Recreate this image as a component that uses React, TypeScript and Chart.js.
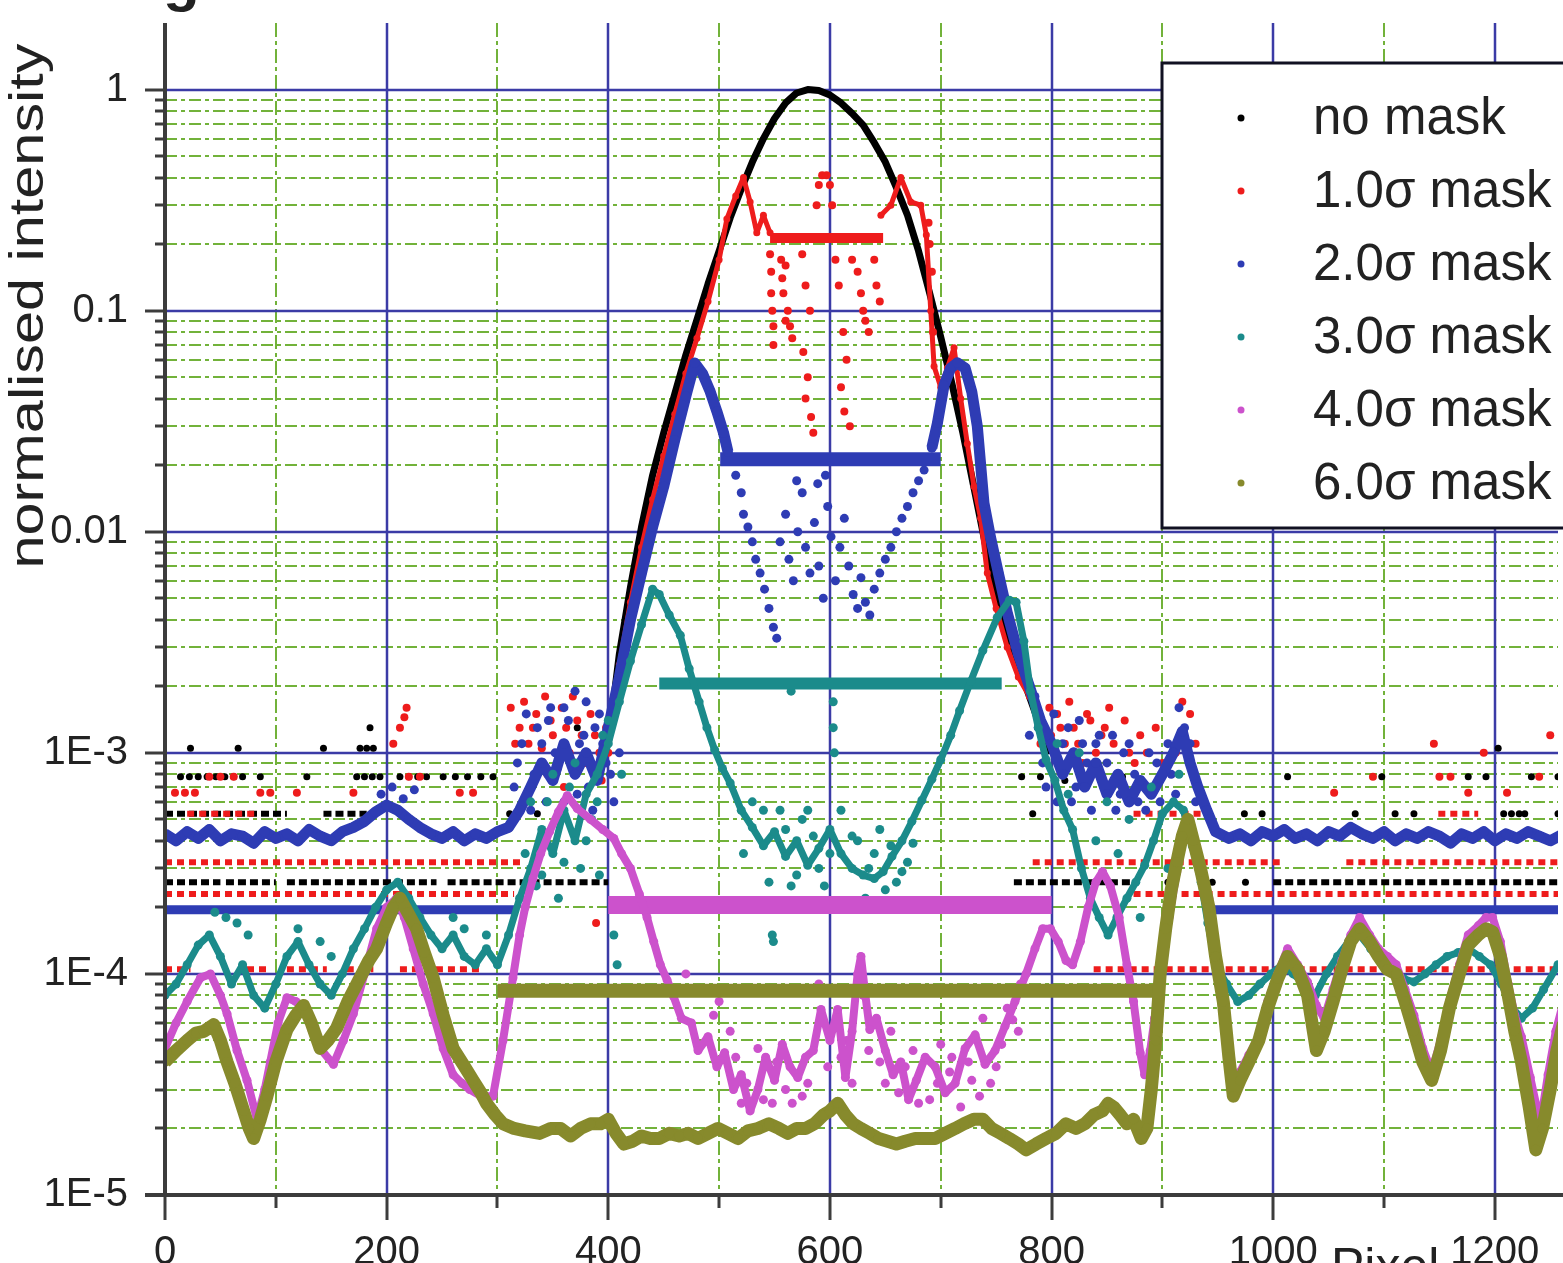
import React, { useEffect, useRef } from 'react';
import { Chart, registerables } from 'chart.js';

Chart.register(...registerables);

type P = [number, number];
type Seg = [number, number, number];

// ---------- series meta ----------
const SERIES_NAMES = ['no mask', '1.0σ mask', '2.0σ mask', '3.0σ mask', '4.0σ mask', '6.0σ mask'];
const SERIES_COLORS = ['#000000', '#ee1c1c', '#2e3cb4', '#1b8b8b', '#cc52cc', '#878a2c'];

// ---------- axes ----------
const X_MIN = 0;
const X_MAX = 1257;
const Y_MIN = 1e-5;
const Y_MAX = 2;
const X_TICKS = [0, 200, 400, 600, 800, 1000, 1200];
const X_MINOR_TICKS = [100, 300, 500, 700, 900, 1100];
const Y_TICKS = [1e-5, 1e-4, 1e-3, 1e-2, 1e-1, 1];
const Y_TICK_LABELS = ['1E-5', '1E-4', '1E-3', '0.01', '0.1', '1'];
const Y_AXIS_TITLE = 'normalised intensity';
const X_AXIS_TITLE = 'Pixel';

// ---------- no mask ----------
const NO_MASK_PEAK: P[] = [[400,0.0011],[410,0.0028],[420,0.0056],[430,0.0105],[440,0.018],[450,0.028],[460,0.042],[470,0.063],[480,0.091],[490,0.132],[500,0.186],[510,0.263],[520,0.355],[530,0.47],[540,0.6],[550,0.74],[560,0.87],[570,0.965],[580,1.0],[590,0.99],[600,0.945],[610,0.87],[620,0.78],[630,0.69],[640,0.575],[650,0.47],[660,0.36],[670,0.27],[680,0.186],[690,0.12],[700,0.076],[710,0.047],[720,0.028],[730,0.0158],[740,0.0089],[750,0.0054],[760,0.0035],[770,0.0025],[780,0.0018],[790,0.0013],[800,0.001]];
const NO_MASK_ROWS: Seg[] = [[0,50,2.6e-4],[55,100,2.6e-4],[110,245,2.6e-4],[255,400,2.6e-4],[766,875,2.6e-4],[1000,1262,2.6e-4],[0,110,5.3e-4],[143,182,5.3e-4]];
const NO_MASK_X_AT_78 = [14,22,30,38,46,54,62,70,86,128,173,180,187,194,212,220,228,236,251,262,273,285,296,773,864,1013,1098,1176,1192,1233,1257];
const NO_MASK_X_AT_53 = [311,318,336,783,974,990,1074,1110,1127,1208,1215,1222,1227,1257];
const NO_MASK_X_AT_105 = [23,66,143,176,182,188,1203];
const NO_MASK_CLOUD: P[] = [[185,1.3e-3],[372,1.3e-3],[385,9e-4],[395,1.2e-3],[790,7.8e-4],[805,9e-4],[812,7.5e-4],[820,1.0e-3],[905,2.6e-4],[945,2.6e-4],[975,2.6e-4]];

// ---------- 1.0 sigma ----------
const ONE_SIGMA_LEFT: P[] = [[400,0.0012],[410,0.0025],[420,0.0048],[430,0.0085],[440,0.014],[450,0.022],[460,0.034],[470,0.052],[480,0.075],[490,0.11],[500,0.17],[507,0.26],[515,0.33],[522,0.4],[528,0.31],[534,0.225],[540,0.27],[546,0.225]];
const ONE_SIGMA_RIGHT: P[] = [[646,0.27],[655,0.3],[664,0.4],[673,0.31],[682,0.3],[687,0.22],[691,0.1],[694,0.056],[700,0.045],[706,0.055],[712,0.068],[718,0.04],[724,0.025],[730,0.016],[736,0.0115],[742,0.0065],[750,0.0045],[760,0.003],[770,0.0022],[780,0.0018],[790,0.0014],[800,0.0012]];
const ONE_SIGMA_FLAT: Seg[] = [[546,648,0.213]];
const ONE_SIGMA_INNER: P[] = [[588,0.3],[590,0.37],[593,0.41],[597,0.41],[600,0.37],[602,0.3],[546,0.18],[547,0.15],[547,0.12],[548,0.1],[549,0.085],[549,0.07],[556,0.17],[557,0.14],[560,0.16],[558,0.12],[562,0.1],[560,0.09],[564,0.085],[566,0.075],[575,0.18],[578,0.13],[582,0.1],[576,0.065],[580,0.05],[578,0.04],[583,0.033],[585,0.028],[605,0.17],[608,0.13],[612,0.08],[615,0.06],[610,0.045],[613,0.035],[618,0.03],[620,0.17],[625,0.15],[628,0.12],[630,0.1],[632,0.09],[635,0.08],[640,0.17],[642,0.13],[645,0.11],[689,0.25],[690,0.2],[692,0.15],[693,0.08]];
const ONE_SIGMA_CLOUD: P[] = [[206,1.1e-3],[212,1.3e-3],[216,1.45e-3],[218,1.6e-3],[312,1.6e-3],[320,1.3e-3],[328,1.1e-3],[335,1.5e-3],[343,1.8e-3],[350,1.2e-3],[358,1.6e-3],[365,1.0e-3],[372,1.4e-3],[380,9e-4],[388,1.2e-3],[394,7.5e-4],[400,1.0e-3],[345,8e-4],[360,7e-4],[389,1.7e-4],[316,1.1e-3],[324,1.7e-3],[332,1.3e-3],[340,1.05e-3],[348,1.4e-3],[355,1.0e-3],[362,1.3e-3],[368,1.8e-3],[376,1.2e-3],[384,1.5e-3],[392,1.0e-3],[398,1.3e-3],[805,1.5e-3],[812,1.1e-3],[820,1.3e-3],[828,9e-4],[835,1.4e-3],[845,1.2e-3],[852,1.6e-3],[860,8e-4],[870,1.0e-3],[880,1.2e-3],[900,9e-4],[925,1.5e-3],[930,1.1e-3],[790,1.1e-3],[798,1.6e-3],[808,1.3e-3],[816,1.7e-3],[824,1.1e-3],[832,1.5e-3],[840,1.0e-3],[848,1.3e-3],[856,1.1e-3],[866,1.4e-3],[875,9e-4],[886,1.0e-3],[894,1.3e-3],[912,1.0e-3],[918,1.7e-3],[1145,1.1e-3],[1250,1.2e-3],[1190,1.0e-3]];
const ONE_SIGMA_ROWS: Seg[] = [[0,23,1.05e-4],[74,95,1.05e-4],[110,146,1.05e-4],[164,188,1.05e-4],[212,284,1.05e-4],[838,1262,1.05e-4],[0,315,2.3e-4],[874,1262,2.3e-4],[0,323,3.2e-4],[783,1007,3.2e-4],[1066,1262,3.2e-4],[20,85,5.3e-4],[874,942,5.3e-4],[1149,1185,5.3e-4]];
const ONE_SIGMA_X_AT_66 = [9,18,27,86,95,119,170,266,278,1055,1176,1211];
const ONE_SIGMA_X_AT_78 = [40,50,62,220,230,1090,1150,1160,1240];

// ---------- 2.0 sigma ----------
const TWO_SIGMA_LEFT: P[] = [[0,4.3e-4],[10,4.0e-4],[20,4.4e-4],[30,4.1e-4],[40,4.5e-4],[50,4.0e-4],[60,4.3e-4],[70,4.2e-4],[80,3.9e-4],[90,4.4e-4],[100,4.1e-4],[110,4.3e-4],[120,4.0e-4],[130,4.5e-4],[140,4.2e-4],[150,4.0e-4],[160,4.4e-4],[170,4.6e-4],[180,4.9e-4],[190,5.4e-4],[200,5.8e-4],[210,5.5e-4],[220,5.0e-4],[230,4.6e-4],[240,4.3e-4],[250,4.1e-4],[260,4.4e-4],[270,4.0e-4],[280,4.3e-4],[290,4.1e-4],[300,4.4e-4],[310,4.6e-4],[320,5.5e-4],[330,7e-4],[340,9e-4],[350,7.5e-4],[360,1.1e-3],[370,8e-4],[380,1.0e-3],[390,7.5e-4],[400,1.3e-3],[410,2.2e-3],[420,4.0e-3],[430,6.5e-3],[440,0.0105],[450,0.016],[460,0.026],[470,0.041],[478,0.058],[485,0.052],[492,0.043],[498,0.035],[504,0.028],[508,0.023]];
const TWO_SIGMA_RIGHT: P[] = [[692,0.024],[697,0.031],[703,0.046],[709,0.055],[715,0.058],[722,0.055],[728,0.043],[733,0.03],[739,0.0135],[745,0.0094],[752,0.0065],[760,0.0043],[770,0.0028],[780,0.002],[790,1.4e-3],[800,1.1e-3],[810,8e-4],[820,1.0e-3],[830,7e-4],[840,9e-4],[850,6.5e-4],[860,8e-4],[870,6e-4],[880,7.5e-4],[890,6.5e-4],[900,8e-4],[910,1.0e-3],[918,1.25e-3],[925,9e-4],[932,7e-4],[940,5.5e-4],[948,4.4e-4],[960,4.1e-4],[970,4.3e-4],[980,4.0e-4],[990,4.4e-4],[1000,4.2e-4],[1010,4.5e-4],[1020,4.1e-4],[1030,4.3e-4],[1040,4.0e-4],[1050,4.4e-4],[1060,4.2e-4],[1070,4.6e-4],[1080,4.3e-4],[1090,4.1e-4],[1100,4.4e-4],[1110,4.0e-4],[1120,4.3e-4],[1130,4.1e-4],[1140,4.4e-4],[1150,4.2e-4],[1160,3.9e-4],[1170,4.3e-4],[1180,4.1e-4],[1190,4.4e-4],[1200,4.0e-4],[1210,4.3e-4],[1220,4.1e-4],[1230,4.4e-4],[1240,4.2e-4],[1250,4.0e-4],[1262,4.3e-4]];
const TWO_SIGMA_FLAT: Seg[] = [[501,700,0.0213]];
const TWO_SIGMA_ROWS: Seg[] = [[0,318,1.95e-4],[946,1262,1.95e-4]];
const TWO_SIGMA_INNER: P[] = [[515,0.018],[520,0.015],[522,0.012],[526,0.0105],[530,0.009],[533,0.0075],[537,0.0065],[541,0.0055],[545,0.0045],[549,0.0037],[552,0.0033],[555,0.009],[560,0.012],[563,0.0075],[567,0.006],[571,0.01],[575,0.015],[578,0.0085],[582,0.0065],[586,0.011],[590,0.007],[594,0.005],[598,0.013],[601,0.0095],[605,0.006],[609,0.0085],[613,0.0115],[617,0.007],[621,0.0052],[625,0.0045],[628,0.0062],[632,0.0048],[636,0.0042],[589,0.0165],[596,0.018],[570,0.017],[640,0.0055],[645,0.0065],[650,0.0075],[655,0.0085],[660,0.01],[665,0.0115],[670,0.013],[675,0.015],[680,0.017],[685,0.019]];
const TWO_SIGMA_CLOUD: P[] = [[195,6.5e-4],[205,7e-4],[215,6.2e-4],[225,6.8e-4],[315,7e-4],[322,1.1e-3],[330,5.5e-4],[336,1.3e-3],[344,6e-4],[352,1.0e-3],[356,5e-4],[364,1.4e-3],[372,6.5e-4],[378,1.2e-3],[386,5.5e-4],[392,1.5e-3],[398,9e-4],[405,6e-4],[410,1.0e-3],[348,1.6e-3],[370,1.9e-3],[318,9e-4],[326,1.5e-3],[333,8e-4],[340,1.1e-3],[346,1.4e-3],[354,8.5e-4],[360,1.6e-3],[366,9e-4],[374,1.1e-3],[382,7e-4],[388,1.3e-3],[395,1.1e-3],[402,8e-4],[360,6e-4],[380,1.7e-3],[780,1.2e-3],[785,1.8e-3],[792,9e-4],[798,1.2e-3],[805,6e-4],[815,1.3e-3],[822,7e-4],[828,1.1e-3],[836,5.5e-4],[843,1.2e-3],[850,9e-4],[858,5.5e-4],[865,1.0e-3],[875,8e-4],[885,5.5e-4],[895,9e-4],[905,1.1e-3],[912,6.5e-4],[920,1.3e-3],[915,1.6e-3],[788,1.3e-3],[795,7e-4],[802,1.5e-3],[810,1.1e-3],[818,6e-4],[825,1.4e-3],[832,9e-4],[840,1.1e-3],[847,7e-4],[855,1.2e-3],[862,6.5e-4],[870,1.1e-3],[878,6e-4],[888,1.0e-3],[898,6e-4],[908,8e-4],[925,1.1e-3],[930,6e-4]];

// ---------- 3.0 sigma ----------
const THREE_SIGMA_MAIN: P[] = [[0,8e-5],[10,9e-5],[20,1.1e-4],[30,1.35e-4],[40,1.5e-4],[50,1.2e-4],[60,9e-5],[70,1.1e-4],[80,8e-5],[90,7e-5],[100,9e-5],[110,1.2e-4],[120,1.4e-4],[130,1.1e-4],[140,9e-5],[150,8e-5],[160,1.0e-4],[170,1.3e-4],[180,1.6e-4],[190,2.0e-4],[200,2.4e-4],[210,2.6e-4],[220,2.2e-4],[230,1.8e-4],[240,1.5e-4],[250,1.3e-4],[260,1.5e-4],[270,1.2e-4],[280,1.1e-4],[290,1.3e-4],[300,1.1e-4],[310,1.5e-4],[320,2.2e-4],[330,3.0e-4],[340,4.5e-4],[350,3.5e-4],[360,5.5e-4],[370,4.0e-4],[380,6.5e-4],[390,8e-4],[400,1.1e-3],[410,1.7e-3],[420,2.6e-3],[430,3.8e-3],[440,5.5e-3],[446,5.2e-3],[455,4.2e-3],[465,3.4e-3],[473,2.4e-3],[482,1.7e-3],[489,1.3e-3],[496,1.03e-3],[503,8.5e-4],[510,7.3e-4],[520,5.5e-4],[530,4.6e-4],[540,3.8e-4],[550,4.4e-4],[560,3.4e-4],[570,4.0e-4],[580,3.1e-4],[590,3.7e-4],[600,4.5e-4],[610,3.5e-4],[620,3.0e-4],[630,2.8e-4],[640,2.7e-4],[648,2.9e-4],[656,3.4e-4],[665,4.0e-4],[674,4.9e-4],[683,6.1e-4],[692,7.6e-4],[700,9.3e-4],[709,1.2e-3],[717,1.55e-3],[727,2.1e-3],[738,2.9e-3],[751,4.1e-3],[762,4.9e-3],[768,4.8e-3],[775,3.2e-3],[781,1.9e-3],[788,1.3e-3],[795,9.3e-4],[803,7.5e-4],[811,5.5e-4],[819,4.5e-4],[827,3.0e-4],[835,2.2e-4],[843,1.8e-4],[851,1.5e-4],[859,1.8e-4],[868,2.2e-4],[876,2.6e-4],[884,3.1e-4],[892,4.0e-4],[900,5.3e-4],[910,6.0e-4],[919,5.5e-4],[927,3.8e-4],[935,2.6e-4],[941,1.7e-4],[948,1.1e-4],[958,9e-5],[968,7.5e-5],[978,8e-5],[988,9e-5],[998,1.0e-4],[1008,1.1e-4],[1018,1.0e-4],[1028,9e-5],[1038,8e-5],[1048,1.0e-4],[1058,1.2e-4],[1068,1.4e-4],[1078,1.5e-4],[1088,1.3e-4],[1098,1.15e-4],[1108,1.0e-4],[1118,9.5e-5],[1127,9.2e-5],[1137,1.0e-4],[1147,1.1e-4],[1157,1.2e-4],[1167,1.25e-4],[1176,1.3e-4],[1186,1.2e-4],[1196,1.1e-4],[1206,9e-5],[1216,7e-5],[1224,6.3e-5],[1234,7e-5],[1244,8.5e-5],[1257,1.1e-4]];
const THREE_SIGMA_FLAT: Seg[] = [[446,755,2.06e-3]];
const THREE_SIGMA_SCATTER: P[] = [[565,1.9e-3],[603,1.7e-3],[603,1.3e-3],[604,1.0e-3],[548,1.5e-4],[549,1.4e-4],[530,6e-4],[545,2.6e-4],[555,5.5e-4],[565,2.5e-4],[575,5e-4],[585,4.2e-4],[595,2.5e-4],[610,5.5e-4],[615,2.0e-4],[625,4.0e-4],[632,2.2e-4],[640,3.5e-4],[650,2.4e-4],[660,2.6e-4],[670,3.2e-4],[540,5.5e-4],[522,3.5e-4],[560,4.5e-4],[570,2.8e-4],[580,5.5e-4],[590,3.0e-4],[600,3.5e-4],[620,4.2e-4],[635,3e-4],[645,4.5e-4],[655,3.8e-4],[665,2.9e-4],[675,3.9e-4],[325,3.5e-4],[335,2.5e-4],[345,6e-4],[355,2.2e-4],[365,7e-4],[375,3e-4],[385,5e-4],[395,1.2e-3],[405,1.5e-4],[408,1.1e-4],[412,8e-4],[330,6e-4],[340,2.8e-4],[350,8e-4],[360,3.2e-4],[370,9e-4],[380,4e-4],[390,6e-4],[400,1.4e-3],[392,2.8e-4],[805,1.1e-3],[815,6.5e-4],[825,1e-3],[840,4e-4],[850,6e-4],[860,3.5e-4],[870,5e-4],[880,1.8e-4],[890,7e-4],[905,3e-4],[915,8e-4],[45,1.9e-4],[55,1.8e-4],[65,1.7e-4],[75,1.5e-4],[120,1.6e-4],[140,1.4e-4],[150,1.2e-4],[260,1.8e-4],[270,1.6e-4],[290,1.5e-4]];

// ---------- 4.0 sigma ----------
const FOUR_SIGMA_MAIN: P[] = [[0,4.6e-5],[10,6e-5],[20,7.5e-5],[32,9.6e-5],[41,1.0e-4],[50,8e-5],[56,6.6e-5],[65,4.5e-5],[74,3.3e-5],[83,2.2e-5],[90,3.0e-5],[95,4.0e-5],[102,6e-5],[110,7.8e-5],[118,7.5e-5],[126,7e-5],[133,5.5e-5],[140,4.6e-5],[152,3.9e-5],[161,5e-5],[170,6.6e-5],[180,1.0e-4],[191,1.6e-4],[200,2.0e-4],[209,2.2e-4],[216,1.8e-4],[224,1.3e-4],[233,9e-5],[242,6.6e-5],[251,4.6e-5],[260,3.5e-5],[268,3.2e-5],[275,3.0e-5],[285,2.8e-5],[296,2.8e-5],[305,5e-5],[314,9.6e-5],[320,1.5e-4],[325,2.0e-4],[332,2.7e-4],[339,3.5e-4],[347,4.4e-4],[355,5.4e-4],[363,6.4e-4],[372,5.6e-4],[384,5.0e-4],[395,4.5e-4],[405,4.1e-4],[412,3.5e-4],[420,3.0e-4],[428,2.3e-4],[435,1.8e-4],[441,1.4e-4],[447,1.1e-4],[453,9.4e-5],[459,7.9e-5],[466,6.3e-5],[475,6.0e-5],[481,4.5e-5],[490,5.2e-5],[498,3.8e-5],[505,4.4e-5],[513,3.0e-5],[520,3.5e-5],[528,2.4e-5],[535,3.0e-5],[542,4.2e-5],[550,3.3e-5],[557,4.8e-5],[564,3.8e-5],[571,3.4e-5],[578,4.2e-5],[585,4.5e-5],[592,6.9e-5],[600,5.0e-5],[607,6.9e-5],[614,3.4e-5],[620,5.5e-5],[625,1.0e-4],[628,1.2e-4],[632,8e-5],[636,5.6e-5],[642,6.3e-5],[650,4.5e-5],[657,3.5e-5],[664,4.0e-5],[671,2.7e-5],[678,3.3e-5],[686,4.2e-5],[695,3.8e-5],[704,2.9e-5],[713,3.2e-5],[722,4.6e-5],[731,5.3e-5],[740,3.9e-5],[749,4.5e-5],[758,5.8e-5],[767,7.5e-5],[777,1.0e-4],[785,1.3e-4],[792,1.6e-4],[799,1.6e-4],[806,1.4e-4],[813,1.15e-4],[819,1.1e-4],[826,1.4e-4],[833,2.0e-4],[840,2.6e-4],[846,2.9e-4],[853,2.5e-4],[861,1.8e-4],[868,1.1e-4],[874,7.5e-5],[880,4.4e-5],[884,3.5e-5],[889,4.5e-5],[893,6.3e-5],[900,1.1e-4],[906,1.8e-4],[913,2.9e-4],[918,4.2e-4],[923,5.0e-4],[928,4.2e-4],[935,3.0e-4],[942,2.2e-4],[948,1.3e-4],[955,7.5e-5],[960,4.5e-5],[964,3.1e-5],[970,3.6e-5],[978,4.3e-5],[987,5.2e-5],[995,7.5e-5],[1004,1.0e-4],[1013,1.3e-4],[1022,1.1e-4],[1031,9.2e-5],[1039,7.2e-5],[1046,6.3e-5],[1054,8.5e-5],[1062,1.15e-4],[1070,1.5e-4],[1078,1.8e-4],[1087,1.5e-4],[1095,1.3e-4],[1103,1.2e-4],[1111,1.1e-4],[1119,8.5e-5],[1127,6.5e-5],[1135,4.6e-5],[1143,3.6e-5],[1151,5e-5],[1159,7.5e-5],[1168,1.1e-4],[1176,1.5e-4],[1185,1.65e-4],[1192,1.8e-4],[1198,1.8e-4],[1205,1.4e-4],[1212,9e-5],[1218,6.5e-5],[1224,5.2e-5],[1232,3.4e-5],[1241,2.1e-5],[1248,3.5e-5],[1255,5.5e-5],[1262,7.5e-5]];
const FOUR_SIGMA_FLAT: Seg[] = [[400,800,2.05e-4]];
const FOUR_SIGMA_SCATTER: P[] = [[470,1.0e-4],[478,8.5e-5],[495,6.5e-5],[510,5.5e-5],[520,2.6e-5],[535,4.6e-5],[548,2.6e-5],[560,3.0e-5],[575,2.8e-5],[590,9e-5],[605,8.5e-5],[610,4.2e-5],[620,3.2e-5],[630,8e-5],[645,4e-5],[655,5.5e-5],[662,2.9e-5],[675,4.5e-5],[690,2.7e-5],[700,4.8e-5],[708,3.6e-5],[718,2.5e-5],[728,3.3e-5],[738,6.3e-5],[745,3.2e-5],[755,4.8e-5],[765,6.2e-5],[772,9e-5],[500,7.5e-5],[515,4.2e-5],[525,3.2e-5],[540,2.7e-5],[552,4e-5],[566,2.6e-5],[580,3.2e-5],[598,3.8e-5],[615,5e-5],[635,4.5e-5],[650,3.2e-5],[668,3.8e-5],[680,2.6e-5],[697,3.2e-5],[710,4.2e-5],[725,4e-5],[735,2.8e-5],[750,3.8e-5],[760,7e-5],[770,5.5e-5]];

// ---------- 6.0 sigma ----------
const SIX_SIGMA_MAIN: P[] = [[0,4.0e-5],[10,4.5e-5],[20,5.0e-5],[28,5.4e-5],[35,5.5e-5],[44,5.9e-5],[50,5e-5],[56,4.0e-5],[63,3.2e-5],[71,2.4e-5],[76,2.0e-5],[80,1.8e-5],[86,2.2e-5],[92,2.8e-5],[100,4.0e-5],[110,5.6e-5],[118,6.5e-5],[125,7.2e-5],[132,6.0e-5],[140,4.6e-5],[147,5.0e-5],[155,5.7e-5],[165,7.5e-5],[176,9.6e-5],[184,1.15e-4],[191,1.3e-4],[200,1.7e-4],[206,2.0e-4],[212,2.2e-4],[219,1.9e-4],[227,1.6e-4],[234,1.25e-4],[242,9.6e-5],[251,6.5e-5],[260,4.6e-5],[269,3.9e-5],[278,3.3e-5],[285,2.9e-5],[290,2.6e-5],[298,2.3e-5],[305,2.1e-5],[315,2.0e-5],[325,1.95e-5],[338,1.9e-5],[348,2.0e-5],[357,2.0e-5],[366,1.85e-5],[375,2.0e-5],[384,2.1e-5],[393,2.1e-5],[400,2.2e-5],[407,1.9e-5],[414,1.7e-5],[422,1.75e-5],[430,1.85e-5],[438,1.8e-5],[446,1.8e-5],[455,1.9e-5],[464,1.85e-5],[472,1.9e-5],[481,1.8e-5],[490,1.9e-5],[499,2.0e-5],[508,1.9e-5],[517,1.8e-5],[526,1.95e-5],[535,2.0e-5],[545,2.1e-5],[554,2.0e-5],[562,1.9e-5],[570,2.0e-5],[578,2.0e-5],[586,2.1e-5],[594,2.3e-5],[600,2.4e-5],[607,2.6e-5],[614,2.3e-5],[621,2.1e-5],[628,2.0e-5],[636,1.9e-5],[644,1.8e-5],[652,1.75e-5],[660,1.7e-5],[668,1.75e-5],[677,1.8e-5],[686,1.8e-5],[695,1.8e-5],[704,1.9e-5],[713,2.0e-5],[721,2.1e-5],[730,2.2e-5],[738,2.2e-5],[746,2.0e-5],[754,1.9e-5],[762,1.8e-5],[770,1.7e-5],[777,1.6e-5],[786,1.7e-5],[795,1.8e-5],[804,1.9e-5],[813,2.1e-5],[822,2.0e-5],[830,2.1e-5],[838,2.3e-5],[846,2.4e-5],[851,2.6e-5],[856,2.5e-5],[862,2.3e-5],[868,2.1e-5],[874,2.2e-5],[881,1.8e-5],[886,2.0e-5],[890,3.0e-5],[894,5e-5],[898,1.0e-4],[903,1.6e-4],[908,2.4e-4],[913,3.2e-4],[918,4.2e-4],[923,5.0e-4],[928,4.0e-4],[935,2.9e-4],[942,2.0e-4],[948,1.2e-4],[955,7.5e-5],[960,4.2e-5],[964,2.8e-5],[970,3.3e-5],[978,4.0e-5],[987,5.0e-5],[995,7e-5],[1004,9.5e-5],[1013,1.2e-4],[1022,1.05e-4],[1031,8.0e-5],[1039,4.5e-5],[1046,5.5e-5],[1054,7.5e-5],[1062,1.05e-4],[1070,1.4e-4],[1078,1.6e-4],[1087,1.4e-4],[1095,1.2e-4],[1103,1.05e-4],[1111,1.0e-4],[1119,7.5e-5],[1127,5.5e-5],[1135,4.0e-5],[1143,3.3e-5],[1151,4.5e-5],[1159,7e-5],[1168,1.0e-4],[1176,1.35e-4],[1185,1.5e-4],[1192,1.6e-4],[1198,1.55e-4],[1205,1.2e-4],[1212,8e-5],[1218,5.5e-5],[1224,4.0e-5],[1231,2.5e-5],[1237,1.6e-5],[1243,2.0e-5],[1250,3.0e-5],[1256,4.5e-5],[1262,6e-5]];
const SIX_SIGMA_FLAT: Seg[] = [[300,900,8.4e-5]];

// row levels of quantised dots
const LEVEL_66 = 6.6e-4;
const LEVEL_78 = 7.8e-4;
const LEVEL_53 = 5.3e-4;
const LEVEL_105 = 1.05e-3;

// ---------- helpers ----------
const pts = (arr: P[]) => arr.map(([x, y]) => ({ x, y }));
const gapJoin = (a: P[], b: P[]) => [...pts(a), { x: (a[a.length - 1][0] + b[0][0]) / 2, y: null }, ...pts(b)];
const segs = (list: Seg[]) => {
  const out: any[] = [];
  list.forEach(([a, b, v]) => { out.push({ x: a, y: v }, { x: b, y: v }, { x: b, y: null }); });
  return out;
};
const row = (xs: number[], v: number) => xs.map((x) => ({ x, y: v }));

const lineDs = (label: string, data: any[], color: string, width: number, radius: number, order: number, dash: number[] = []) => ({
  label, data, showLine: true, borderColor: color, backgroundColor: color, borderWidth: width,
  pointRadius: radius, pointHoverRadius: radius, pointBorderWidth: 0, pointBackgroundColor: color,
  borderDash: dash, spanGaps: false, order, tension: 0, borderCapStyle: 'butt', borderJoinStyle: 'round',
});
const dotDs = (label: string, data: any[], color: string, radius: number, order: number) => ({
  label, data, showLine: false, borderColor: color, backgroundColor: color, pointRadius: radius,
  pointHoverRadius: radius, pointBorderWidth: 0, pointBackgroundColor: color, order,
});

const GRID_MAJOR = '#3b3ba6';
const GRID_MINOR = '#72b23a';
const AXIS_COLOR = '#3c3c3c';
const TEXT_COLOR = '#222222';
const FONT = '"Liberation Sans", Arial, sans-serif';

const decorPlugin = {
  id: 'decor',
  beforeDatasetsDraw(chart: any) {
    const { ctx, chartArea: a, scales } = chart;
    const xs = scales.x;
    const ys = scales.y;
    const hLine = (y: number) => { ctx.beginPath(); ctx.moveTo(a.left, y); ctx.lineTo(a.right, y); ctx.stroke(); };
    const vLine = (x: number) => { ctx.beginPath(); ctx.moveTo(x, a.top); ctx.lineTo(x, a.bottom); ctx.stroke(); };
    ctx.save();
    ctx.beginPath();
    ctx.rect(a.left, a.top, a.right - a.left, a.bottom - a.top);
    ctx.clip();
    ctx.strokeStyle = GRID_MINOR;
    ctx.lineWidth = 2;
    ctx.setLineDash([12, 4, 4, 4]);
    for (let d = -5; d <= 0; d++) {
      for (let m = 2; m <= 9; m++) {
        const v = m * Math.pow(10, d);
        if (v >= Y_MAX) continue;
        hLine(Math.round(ys.getPixelForValue(v)));
      }
    }
    ctx.setLineDash([14, 4, 4, 4]);
    X_MINOR_TICKS.forEach((v) => vLine(Math.round(xs.getPixelForValue(v))));
    ctx.setLineDash([]);
    ctx.strokeStyle = GRID_MAJOR;
    ctx.lineWidth = 2.5;
    Y_TICKS.forEach((v) => { if (v > Y_MIN) hLine(Math.round(ys.getPixelForValue(v))); });
    X_TICKS.forEach((v) => { if (v > X_MIN) vLine(Math.round(xs.getPixelForValue(v))); });
    ctx.restore();
  },
  afterDatasetsDraw(chart: any) {
    const { ctx, chartArea: a, scales, width } = chart;
    const xs = scales.x;
    const ys = scales.y;
    ctx.save();
    // axes
    ctx.strokeStyle = AXIS_COLOR;
    ctx.lineWidth = 4;
    ctx.beginPath(); ctx.moveTo(a.left, a.top); ctx.lineTo(a.left, a.bottom); ctx.stroke();
    ctx.beginPath(); ctx.moveTo(a.left - 20, a.bottom); ctx.lineTo(width, a.bottom); ctx.stroke();
    // tick marks
    ctx.lineWidth = 3;
    for (let d = -5; d <= 0; d++) {
      for (let m = 1; m <= 9; m++) {
        const v = m * Math.pow(10, d);
        if (v >= Y_MAX) continue;
        const y = Math.round(ys.getPixelForValue(v));
        const len = m === 1 ? 20 : 10;
        ctx.beginPath(); ctx.moveTo(a.left - len, y); ctx.lineTo(a.left, y); ctx.stroke();
      }
    }
    X_TICKS.forEach((v) => {
      const x = Math.round(xs.getPixelForValue(v));
      ctx.beginPath(); ctx.moveTo(x, a.bottom); ctx.lineTo(x, a.bottom + 25); ctx.stroke();
    });
    X_MINOR_TICKS.forEach((v) => {
      const x = Math.round(xs.getPixelForValue(v));
      ctx.beginPath(); ctx.moveTo(x, a.bottom); ctx.lineTo(x, a.bottom + 13); ctx.stroke();
    });
    // legend box
    const lx = Math.round(xs.getPixelForValue(900));
    const ly = 63;
    ctx.fillStyle = '#ffffff';
    ctx.fillRect(lx, ly, width - lx + 20, 465);
    ctx.strokeStyle = '#111122';
    ctx.lineWidth = 3;
    ctx.strokeRect(lx, ly, width - lx + 20, 465);
    ctx.font = `51px ${FONT}`;
    ctx.textBaseline = 'middle';
    ctx.textAlign = 'left';
    SERIES_NAMES.forEach((name, i) => {
      const y = ly + 55 + i * 73;
      ctx.fillStyle = SERIES_COLORS[i];
      ctx.beginPath(); ctx.arc(lx + 79, y, 3.5, 0, Math.PI * 2); ctx.fill();
      ctx.fillStyle = TEXT_COLOR;
      ctx.fillText(name, lx + 151, y + 2);
    });
    ctx.restore();
  },
  afterDraw(chart: any) {
    const { ctx, chartArea: a } = chart;
    ctx.save();
    ctx.fillStyle = TEXT_COLOR;
    // y-axis title
    ctx.font = `48px ${FONT}`;
    const w = ctx.measureText(Y_AXIS_TITLE).width;
    ctx.translate(43, 306);
    ctx.rotate(-Math.PI / 2);
    ctx.scale(525 / w, 1);
    ctx.textAlign = 'center';
    ctx.textBaseline = 'alphabetic';
    ctx.fillText(Y_AXIS_TITLE, 0, 0);
    ctx.restore();
    ctx.save();
    ctx.fillStyle = TEXT_COLOR;
    ctx.font = `50px ${FONT}`;
    ctx.textAlign = 'left';
    ctx.textBaseline = 'alphabetic';
    ctx.fillText(X_AXIS_TITLE, 1331, a.bottom + 88);
    ctx.font = `bold 60px ${FONT}`;
    ctx.fillText('g', a.left - 2, 0);
    ctx.restore();
  },
};

export default function App() {
  const ref = useRef<HTMLCanvasElement | null>(null);
  useEffect(() => {
    if (!ref.current) return;
    const [cBlack, cRed, cBlue, cTeal, cMag, cOlive] = SERIES_COLORS;
    const datasets: any[] = [
      // no mask
      lineDs(SERIES_NAMES[0], pts(NO_MASK_PEAK), cBlack, 7, 0, 60),
      lineDs('no mask rows', segs(NO_MASK_ROWS), cBlack, 6, 0, 62, [8, 4]),
      dotDs('no mask dots', [...row(NO_MASK_X_AT_78, LEVEL_78), ...row(NO_MASK_X_AT_53, LEVEL_53), ...row(NO_MASK_X_AT_105, LEVEL_105), ...pts(NO_MASK_CLOUD)], cBlack, 3.5, 61),
      // 1.0 sigma
      lineDs(SERIES_NAMES[1], gapJoin(ONE_SIGMA_LEFT, ONE_SIGMA_RIGHT), cRed, 5, 3.5, 50),
      lineDs('1.0 flat', segs(ONE_SIGMA_FLAT), cRed, 10, 0, 50),
      dotDs('1.0 inner', [...pts(ONE_SIGMA_INNER), ...pts(ONE_SIGMA_CLOUD), ...row(ONE_SIGMA_X_AT_66, LEVEL_66), ...row(ONE_SIGMA_X_AT_78, LEVEL_78)], cRed, 4, 51),
      lineDs('1.0 rows', segs(ONE_SIGMA_ROWS), cRed, 6, 0, 52, [7, 5]),
      // 2.0 sigma
      lineDs(SERIES_NAMES[2], gapJoin(TWO_SIGMA_LEFT, TWO_SIGMA_RIGHT), cBlue, 11, 5, 40),
      lineDs('2.0 flat', segs(TWO_SIGMA_FLAT), cBlue, 14, 0, 40),
      lineDs('2.0 rows', segs(TWO_SIGMA_ROWS), cBlue, 9, 0, 41),
      dotDs('2.0 inner', [...pts(TWO_SIGMA_INNER), ...pts(TWO_SIGMA_CLOUD)], cBlue, 4.5, 41),
      // 3.0 sigma
      lineDs(SERIES_NAMES[3], pts(THREE_SIGMA_MAIN), cTeal, 7, 4.5, 30),
      lineDs('3.0 flat', segs(THREE_SIGMA_FLAT), cTeal, 12, 0, 30),
      dotDs('3.0 scatter', pts(THREE_SIGMA_SCATTER), cTeal, 4.5, 31),
      // 4.0 sigma
      lineDs(SERIES_NAMES[4], pts(FOUR_SIGMA_MAIN), cMag, 8, 4.5, 20),
      lineDs('4.0 flat', segs(FOUR_SIGMA_FLAT), cMag, 18, 0, 20),
      dotDs('4.0 scatter', pts(FOUR_SIGMA_SCATTER), cMag, 4.5, 21),
      // 6.0 sigma
      lineDs(SERIES_NAMES[5], pts(SIX_SIGMA_MAIN), cOlive, 13, 5, 10),
      lineDs('6.0 flat', segs(SIX_SIGMA_FLAT), cOlive, 14, 0, 10),
    ];
    const chart = new Chart(ref.current, {
      type: 'scatter',
      data: { datasets },
      options: {
        animation: false,
        responsive: false,
        maintainAspectRatio: false,
        events: [],
        layout: { padding: { top: 23, right: 0, left: 0, bottom: 0 } },
        plugins: { legend: { display: false }, tooltip: { enabled: false }, title: { display: false } },
        scales: {
          x: {
            type: 'linear',
            min: X_MIN,
            max: X_MAX,
            afterFit: (s: any) => { s.height = 68; s.paddingLeft = 0; s.paddingRight = 0; },
            afterBuildTicks: (s: any) => { s.ticks = X_TICKS.map((v) => ({ value: v })); },
            grid: { display: false, drawTicks: false },
            border: { display: false },
            ticks: {
              autoSkip: false,
              maxRotation: 0,
              padding: 34,
              color: TEXT_COLOR,
              font: { size: 40, family: FONT },
              callback: (v: any) => String(v),
            },
          },
          y: {
            type: 'logarithmic',
            min: Y_MIN,
            max: Y_MAX,
            afterFit: (s: any) => { s.width = 165; s.paddingTop = 0; s.paddingBottom = 0; },
            afterBuildTicks: (s: any) => { s.ticks = Y_TICKS.map((v) => ({ value: v })); },
            grid: { display: false, drawTicks: false },
            border: { display: false },
            ticks: {
              autoSkip: false,
              padding: 37,
              color: TEXT_COLOR,
              font: { size: 40, family: FONT },
              callback: (v: any) => {
                const i = Y_TICKS.findIndex((t) => Math.abs(Math.log10(t) - Math.log10(Number(v))) < 1e-6);
                return i >= 0 ? Y_TICK_LABELS[i] : '';
              },
            },
          },
        },
      },
      plugins: [decorPlugin],
    } as any);
    return () => chart.destroy();
  }, []);
  return (
    <div style={{ position: 'fixed', left: 0, top: 0, width: 1563, height: 1263, background: '#ffffff', overflow: 'hidden' }}>
      <canvas ref={ref} width={1563} height={1263} style={{ display: 'block', width: 1563, height: 1263 }} />
    </div>
  );
}
